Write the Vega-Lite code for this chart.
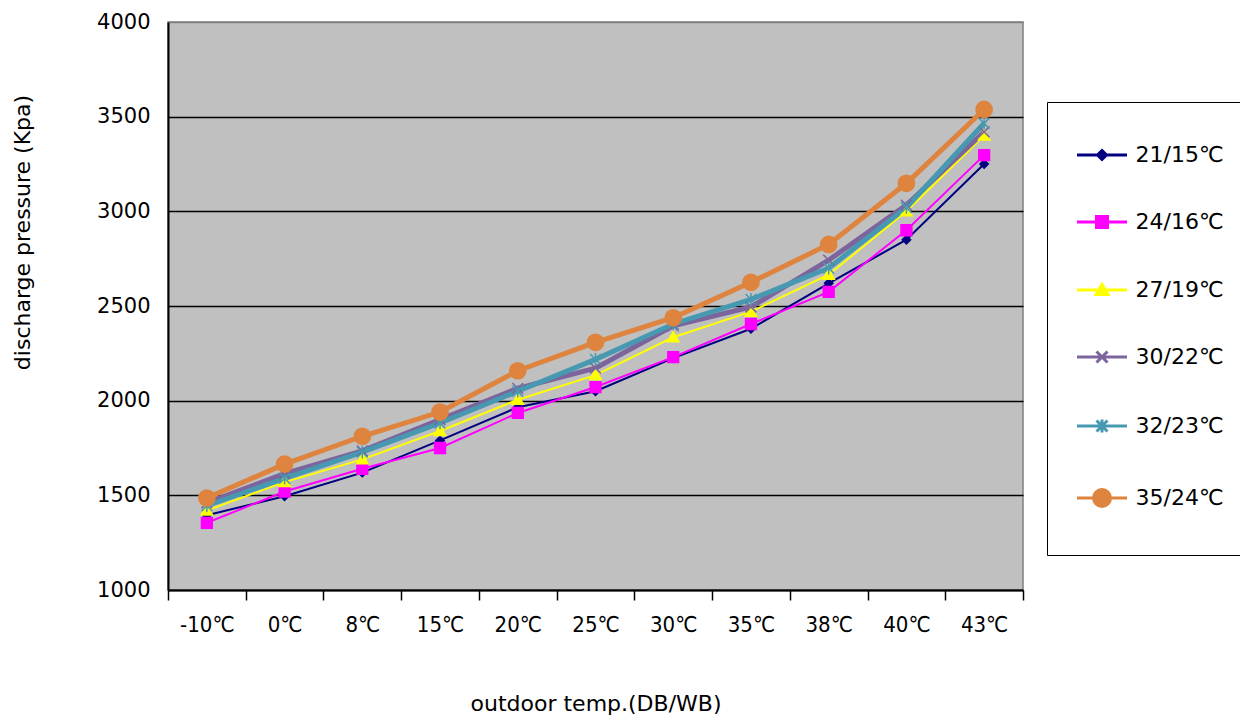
{
  "$schema": "https://vega.github.io/schema/vega-lite/v6.json",
  "autosize": {"type": "none"},
  "padding": {"left": 168, "top": 22, "right": 217, "bottom": 130},
  "width": 855,
  "height": 568,
  "background": "white",
  "config": {
    "view": {"fill": "#C0C0C0", "stroke": "#808080", "strokeWidth": 1.5},
    "font": "DejaVu Sans",
    "legend": {
      "orient": "none",
      "legendX": 879,
      "legendY": 80,
      "padding": 42,
      "strokeColor": "black",
      "fillColor": "white",
      "symbolSize": 100,
      "symbolOpacity": 1,
      "symbolStrokeWidth": 3,
      "symbolOffset": 2,
      "labelOffset": 22.5,
      "rowPadding": 44,
      "labelFont": "DejaVu Sans",
      "labelFontSize": 22,
      "labelColor": "black",
      "labelLimit": 300
    }
  },
  "data": {
    "values": [
      {"series": "21/15℃", "temp": "-10℃", "value": 1395},
      {"series": "21/15℃", "temp": "0℃", "value": 1495},
      {"series": "21/15℃", "temp": "8℃", "value": 1620},
      {"series": "21/15℃", "temp": "15℃", "value": 1790},
      {"series": "21/15℃", "temp": "20℃", "value": 1965},
      {"series": "21/15℃", "temp": "25℃", "value": 2050},
      {"series": "21/15℃", "temp": "30℃", "value": 2225},
      {"series": "21/15℃", "temp": "35℃", "value": 2380},
      {"series": "21/15℃", "temp": "38℃", "value": 2620},
      {"series": "21/15℃", "temp": "40℃", "value": 2850},
      {"series": "21/15℃", "temp": "43℃", "value": 3250},
      {"series": "24/16℃", "temp": "-10℃", "value": 1355},
      {"series": "24/16℃", "temp": "0℃", "value": 1520},
      {"series": "24/16℃", "temp": "8℃", "value": 1640},
      {"series": "24/16℃", "temp": "15℃", "value": 1750},
      {"series": "24/16℃", "temp": "20℃", "value": 1935},
      {"series": "24/16℃", "temp": "25℃", "value": 2072},
      {"series": "24/16℃", "temp": "30℃", "value": 2230},
      {"series": "24/16℃", "temp": "35℃", "value": 2405},
      {"series": "24/16℃", "temp": "38℃", "value": 2575},
      {"series": "24/16℃", "temp": "40℃", "value": 2900},
      {"series": "24/16℃", "temp": "43℃", "value": 3297},
      {"series": "27/19℃", "temp": "-10℃", "value": 1420},
      {"series": "27/19℃", "temp": "0℃", "value": 1570},
      {"series": "27/19℃", "temp": "8℃", "value": 1690},
      {"series": "27/19℃", "temp": "15℃", "value": 1840},
      {"series": "27/19℃", "temp": "20℃", "value": 2005},
      {"series": "27/19℃", "temp": "25℃", "value": 2135},
      {"series": "27/19℃", "temp": "30℃", "value": 2335},
      {"series": "27/19℃", "temp": "35℃", "value": 2470},
      {"series": "27/19℃", "temp": "38℃", "value": 2665},
      {"series": "27/19℃", "temp": "40℃", "value": 3000},
      {"series": "27/19℃", "temp": "43℃", "value": 3400},
      {"series": "30/22℃", "temp": "-10℃", "value": 1460},
      {"series": "30/22℃", "temp": "0℃", "value": 1615},
      {"series": "30/22℃", "temp": "8℃", "value": 1735},
      {"series": "30/22℃", "temp": "15℃", "value": 1900},
      {"series": "30/22℃", "temp": "20℃", "value": 2065},
      {"series": "30/22℃", "temp": "25℃", "value": 2172},
      {"series": "30/22℃", "temp": "30℃", "value": 2395},
      {"series": "30/22℃", "temp": "35℃", "value": 2495},
      {"series": "30/22℃", "temp": "38℃", "value": 2742},
      {"series": "30/22℃", "temp": "40℃", "value": 3033},
      {"series": "30/22℃", "temp": "43℃", "value": 3420},
      {"series": "32/23℃", "temp": "-10℃", "value": 1445},
      {"series": "32/23℃", "temp": "0℃", "value": 1590},
      {"series": "32/23℃", "temp": "8℃", "value": 1728},
      {"series": "32/23℃", "temp": "15℃", "value": 1882},
      {"series": "32/23℃", "temp": "20℃", "value": 2050},
      {"series": "32/23℃", "temp": "25℃", "value": 2218},
      {"series": "32/23℃", "temp": "30℃", "value": 2405},
      {"series": "32/23℃", "temp": "35℃", "value": 2535},
      {"series": "32/23℃", "temp": "38℃", "value": 2700},
      {"series": "32/23℃", "temp": "40℃", "value": 3020},
      {"series": "32/23℃", "temp": "43℃", "value": 3465},
      {"series": "35/24℃", "temp": "-10℃", "value": 1486},
      {"series": "35/24℃", "temp": "0℃", "value": 1665},
      {"series": "35/24℃", "temp": "8℃", "value": 1812},
      {"series": "35/24℃", "temp": "15℃", "value": 1940},
      {"series": "35/24℃", "temp": "20℃", "value": 2158},
      {"series": "35/24℃", "temp": "25℃", "value": 2308},
      {"series": "35/24℃", "temp": "30℃", "value": 2438},
      {"series": "35/24℃", "temp": "35℃", "value": 2625},
      {"series": "35/24℃", "temp": "38℃", "value": 2825},
      {"series": "35/24℃", "temp": "40℃", "value": 3148},
      {"series": "35/24℃", "temp": "43℃", "value": 3538}
    ]
  },
  "encoding": {
    "x": {
      "field": "temp",
      "type": "nominal",
      "sort": ["-10℃", "0℃", "8℃", "15℃", "20℃", "25℃", "30℃", "35℃", "38℃", "40℃", "43℃"],
      "scale": {"type": "band", "paddingInner": 0, "paddingOuter": 0},
      "axis": {
        "title": "outdoor temp.(DB/WB)",
        "titleFont": "DejaVu Sans",
        "titleFontSize": 22,
        "titleFontWeight": "normal",
        "titleColor": "black",
        "titlePadding": 58,
        "labelAngle": 0,
        "labelFont": "Liberation Sans Narrow, DejaVu Sans Condensed",
        "labelFontSize": 22,
        "labelColor": "black",
        "labelPadding": 14,
        "tickBand": "extent",
        "tickSize": 10,
        "tickColor": "black",
        "tickWidth": 1.5,
        "domainColor": "black",
        "domainWidth": 2,
        "grid": false
      }
    },
    "y": {
      "field": "value",
      "type": "quantitative",
      "scale": {"domain": [1000, 4000], "nice": false, "zero": false},
      "axis": {
        "title": "discharge pressure (Kpa)",
        "titleFont": "DejaVu Sans",
        "titleFontSize": 22,
        "titleFontWeight": "normal",
        "titleColor": "black",
        "titleX": -146,
        "titleY": 210,
        "titleAngle": -90,
        "titleBaseline": "middle",
        "titleAlign": "center",
        "values": [1000, 1500, 2000, 2500, 3000, 3500, 4000],
        "format": "d",
        "labelFont": "DejaVu Sans",
        "labelFontSize": 21,
        "labelColor": "black",
        "labelPadding": 18,
        "ticks": false,
        "domainColor": "black",
        "domainWidth": 2,
        "grid": true,
        "gridColor": {"condition": {"test": "datum.value >= 4000", "value": "#808080"}, "value": "black"},
        "gridWidth": 1.5
      }
    }
  },
  "layer": [
    {
      "transform": [{"filter": "datum.series === '21/15℃' || datum.series === '24/16℃' || datum.series === '27/19℃'"}],
      "mark": {"type": "line", "strokeWidth": 2},
      "encoding": {
        "color": {
          "field": "series",
          "type": "nominal",
          "scale": {
            "domain": ["21/15℃", "24/16℃", "27/19℃", "30/22℃", "32/23℃", "35/24℃"],
            "range": ["#000080", "#FF00FF", "#FFFF00", "#7C649C", "#4699B0", "#DE843E"]
          },
          "legend": null
        }
      }
    },
    {
      "transform": [{"filter": "datum.series === '30/22℃' || datum.series === '32/23℃' || datum.series === '35/24℃'"}],
      "mark": {"type": "line", "strokeWidth": 5},
      "encoding": {
        "color": {
          "field": "series",
          "type": "nominal",
          "scale": {
            "domain": ["21/15℃", "24/16℃", "27/19℃", "30/22℃", "32/23℃", "35/24℃"],
            "range": ["#000080", "#FF00FF", "#FFFF00", "#7C649C", "#4699B0", "#DE843E"]
          },
          "legend": null
        }
      }
    },
    {
      "transform": [{"filter": "datum.series === '21/15℃'"}],
      "mark": {"type": "point", "filled": true, "opacity": 1, "size": 36, "strokeWidth": 1.5, "fill": "#000080", "stroke": "#000080", "shape": "M0,-1.4L1.4,0L0,1.4L-1.4,0Z"}
    },
    {
      "transform": [{"filter": "datum.series === '24/16℃'"}],
      "mark": {"type": "point", "filled": true, "opacity": 1, "size": 36, "strokeWidth": 1.5, "fill": "#FF00FF", "stroke": "#FF00FF", "shape": "M-1.8,-1.8H1.8V1.8H-1.8Z"}
    },
    {
      "transform": [{"filter": "datum.series === '27/19℃'"}],
      "mark": {"type": "point", "filled": true, "opacity": 1, "size": 36, "strokeWidth": 1.5, "fill": "#FFFF00", "stroke": "#FFFF00", "shape": "M0,-1.8L1.9,1.5H-1.9Z"}
    },
    {
      "transform": [{"filter": "datum.series === '30/22℃'"}],
      "mark": {"type": "point", "filled": true, "opacity": 1, "size": 36, "strokeWidth": 1.5, "fill": "#7C649C", "stroke": "#7C649C", "shape": "M-1.8,-1.8L1.8,1.8M1.8,-1.8L-1.8,1.8"}
    },
    {
      "transform": [{"filter": "datum.series === '32/23℃'"}],
      "mark": {"type": "point", "filled": true, "opacity": 1, "size": 36, "strokeWidth": 1.5, "fill": "#4699B0", "stroke": "#4699B0", "shape": "M-1.8,-1.8L1.8,1.8M1.8,-1.8L-1.8,1.8M0,-2.1V2.1"}
    },
    {
      "transform": [{"filter": "datum.series === '35/24℃'"}],
      "mark": {"type": "point", "filled": true, "opacity": 1, "size": 36, "strokeWidth": 1.5, "fill": "#DE843E", "stroke": "#DE843E", "shape": "M2.7,0A2.7,2.7,0,1,1,-2.7,0A2.7,2.7,0,1,1,2.7,0Z"}
    },
    {
      "mark": {"type": "point", "filled": true, "opacity": 0},
      "encoding": {
        "fill": {
          "field": "series",
          "type": "nominal",
          "scale": {"range": ["#000080", "#FF00FF", "#FFFF00", "#7C649C", "#4699B0", "#DE843E"]},
          "legend": {"title": null}
        },
        "stroke": {
          "field": "series",
          "type": "nominal",
          "scale": {"range": ["#000080", "#FF00FF", "#FFFF00", "#7C649C", "#4699B0", "#DE843E"]},
          "legend": {"title": null}
        },
        "shape": {
          "field": "series",
          "type": "nominal",
          "scale": {
            "range": [
              "M-5,0H5M0,-0.9L0.9,0L0,0.9L-0.9,0Z",
              "M-5,0H5M-1.1,-1.1H1.1V1.1H-1.1Z",
              "M-5,0H5M0,-1.1L1.2,0.9H-1.2Z",
              "M-5,0H5M-1.1,-1.1L1.1,1.1M1.1,-1.1L-1.1,1.1",
              "M-5,0H5M-1.1,-1.1L1.1,1.1M1.1,-1.1L-1.1,1.1M0,-1.3V1.3",
              "M-5,0H5M1.7,0A1.7,1.7,0,1,1,-1.7,0A1.7,1.7,0,1,1,1.7,0Z"
            ]
          },
          "legend": {"title": null}
        }
      }
    }
  ]
}
